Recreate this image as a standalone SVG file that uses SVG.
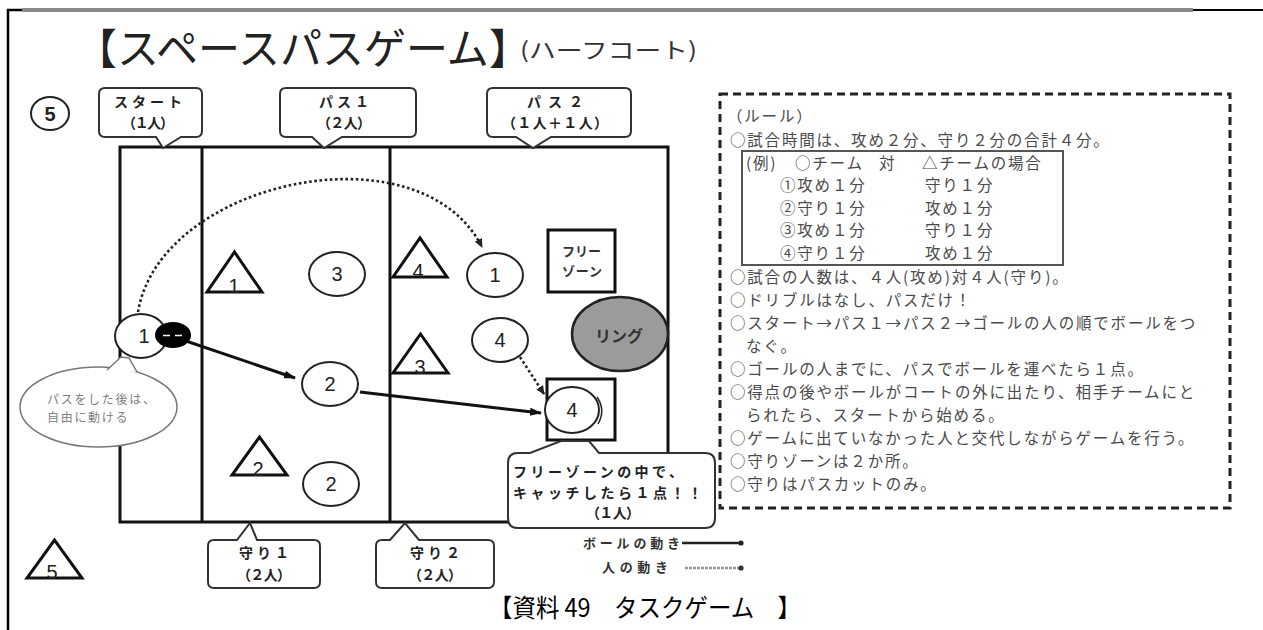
<svg xmlns="http://www.w3.org/2000/svg" width="1263" height="630" viewBox="0 0 1263 630">
<defs>
<style>
text{font-family:"Noto Sans CJK JP","Noto Sans CJK SC",sans-serif;}
.ln{fill:none;stroke:#111;stroke-width:3}
.call{fill:#fff;stroke:#333;stroke-width:2}
.ct{font-size:14px;font-weight:bold;fill:#222;text-anchor:middle}
.num{font-family:"Liberation Sans",Arial,sans-serif;font-size:20px;fill:#222;text-anchor:middle}
.pl{fill:#fff;stroke:#222;stroke-width:2}
.tri{fill:#fff;stroke:#111;stroke-width:3}
.rule{font-size:15.5px;letter-spacing:1.8px;fill:#4a4a4a}
.fz{font-size:14px;font-weight:bold;fill:#222}
.arr{fill:none;stroke:#111;stroke-width:3}
.dot{fill:none;stroke:#222;stroke-width:2.6;stroke-dasharray:2.6 2.6}
</style>
<marker id="ah" viewBox="0 0 12 10" refX="11" refY="5" markerWidth="12" markerHeight="10" markerUnits="userSpaceOnUse" orient="auto"><path d="M0,1 L12,5 L0,9 z" fill="#111"/></marker>
<marker id="ahd" viewBox="0 0 9 8" refX="8" refY="4" markerWidth="9" markerHeight="8" markerUnits="userSpaceOnUse" orient="auto"><path d="M0,0 L9,4 L0,8 z" fill="#222"/></marker>
</defs>
<rect width="1263" height="630" fill="#fff"/>

<g id="frame">
<path d="M8,630 V10 H22" fill="none" stroke="#000" stroke-width="2.5"/>
<line x1="22" y1="10" x2="1193" y2="10" stroke="#8a8a8a" stroke-width="4"/>
<line x1="1193" y1="10" x2="1263" y2="10" stroke="#000" stroke-width="2"/>
</g>

<g id="title">
<text x="75" y="64" font-size="42" fill="#222">【スペースパスゲーム】</text>
<text x="520" y="58" font-size="22" fill="#333" textLength="177" lengthAdjust="spacingAndGlyphs">(ハーフコート)</text>
</g>

<g id="court">
<rect x="120" y="147" width="548" height="375" class="ln"/>
<line x1="202" y1="147" x2="202" y2="522" class="ln"/>
<line x1="390" y1="147" x2="390" y2="522" class="ln"/>
</g>

<g id="callout-start">
<path class="call" d="M105,88 H196 Q202,88 202,94 V131 Q202,137 196,137 H181 L163,148 L156,137 H105 Q99,137 99,131 V94 Q99,88 105,88 Z"/>
<text class="ct" x="148" y="107" textLength="68">スタート</text>
<text class="ct" x="148" y="128" textLength="52">（１人）</text>
</g>
<g id="callout-pass1">
<path class="call" d="M286,88 H410 Q416,88 416,94 V131 Q416,137 410,137 H342 L324,148 L312,137 H286 Q280,137 280,131 V94 Q280,88 286,88 Z"/>
<text class="ct" x="344" y="107" textLength="50">パス１</text>
<text class="ct" x="344" y="128" textLength="54">（２人）</text>
</g>
<g id="callout-pass2">
<path class="call" d="M493,88 H625 Q631,88 631,94 V131 Q631,137 625,137 H551 L533,148 L516,137 H493 Q487,137 487,131 V94 Q487,88 493,88 Z"/>
<text class="ct" x="555" y="107" textLength="56">パス２</text>
<text class="ct" x="555" y="128" textLength="106">（１人＋１人）</text>
</g>

<g id="p5">
<ellipse cx="50" cy="113.5" rx="19" ry="16.5" class="pl"/>
<text class="num" x="50" y="120.5" font-weight="bold" font-size="18">5</text>
</g>

<g id="bubble">
<ellipse cx="98.5" cy="407" rx="78.5" ry="40" fill="#fff" stroke="#777" stroke-width="1.5"/>
<path d="M107,370 L121,357 L129,358 L137,372" fill="#fff" stroke="#777" stroke-width="1.5"/>
<text x="47" y="404" font-size="12" letter-spacing="1.7" fill="#808080">パスをした後は、</text>
<text x="47" y="422" font-size="12" letter-spacing="1.7" fill="#808080">自由に動ける</text>
</g>

<g id="d1"><polygon class="tri" points="207,292 262,292 234.5,252"/><text class="num" x="234" y="293" font-size="18">1</text></g>
<g id="d2"><polygon class="tri" points="232,475 287,475 259.5,437"/><text class="num" x="258" y="476" font-size="18">2</text></g>
<g id="d3"><polygon class="tri" points="393,373 448,373 420.5,334"/><text class="num" x="420" y="374" font-size="18">3</text></g>
<g id="d4"><polygon class="tri" points="393,277 447,277 420,238"/><text class="num" x="418" y="278" font-size="18">4</text></g>
<g id="d5"><polygon class="tri" points="27,578 82,578 54.5,540"/><text class="num" x="52" y="579" font-size="18">5</text></g>

<g id="freezone-top">
<rect x="548" y="230" width="67" height="62" fill="#fff" stroke="#111" stroke-width="3"/>
<text x="562" y="256" font-size="13" font-weight="bold" fill="#333" textLength="39">フリー</text>
<text x="562" y="276" font-size="13" font-weight="bold" fill="#333" textLength="40">ゾーン</text>
</g>
<g id="ring">
<ellipse cx="620" cy="334" rx="48" ry="37" fill="#9b9b9b" stroke="#222" stroke-width="2.5"/>
<text x="619" y="342" font-size="16" font-weight="bold" fill="#333" text-anchor="middle">リング</text>
</g>
<g id="freezone-bottom">
<rect x="547" y="379" width="68" height="61" fill="#fff" stroke="#111" stroke-width="3"/>
</g>

<g id="connectors">
<path class="dot" d="M138,312 C160,180 420,125 482,247" marker-end="url(#ahd)"/>
<path class="arr" d="M186,341 L295,378" marker-end="url(#ah)"/>
<path class="arr" d="M360,392 L541,413" marker-end="url(#ah)"/>
<path class="dot" d="M520,357 L544,394" marker-end="url(#ahd)"/>
</g>

<g id="a1-left"><ellipse cx="141" cy="336" rx="26" ry="22" class="pl"/><text class="num" x="144" y="343">1</text></g>
<g id="ball">
<ellipse cx="173" cy="335" rx="18" ry="13" fill="#000"/>
<line x1="163" y1="335.5" x2="170" y2="335.5" stroke="#fff" stroke-width="1.5"/>
<line x1="175" y1="335.5" x2="182" y2="335.5" stroke="#fff" stroke-width="1.5"/>
</g>
<g id="a3"><ellipse cx="337" cy="274" rx="28" ry="22" class="pl"/><text class="num" x="337" y="281">3</text></g>
<g id="a1-right"><ellipse cx="495" cy="275" rx="28" ry="22" class="pl"/><text class="num" x="495" y="282">1</text></g>
<g id="a4-top"><ellipse cx="500" cy="340" rx="28" ry="22" class="pl"/><text class="num" x="500" y="347">4</text></g>
<g id="a2-mid"><ellipse cx="330" cy="384" rx="28" ry="22" class="pl"/><text class="num" x="330" y="391">2</text></g>
<g id="a2-low"><ellipse cx="331" cy="484" rx="28" ry="22" class="pl"/><text class="num" x="331" y="491">2</text></g>
<g id="a4-free">
<ellipse cx="572" cy="410" rx="27" ry="23" class="pl"/>
<path d="M597,397 Q606,410 598,424" fill="none" stroke="#222" stroke-width="1.5"/>
<text class="num" x="572" y="417">4</text>
</g>

<g id="callout-free">
<path class="call" d="M518,453 H530 L561,441 L589,441 L599,453 H705 Q715,453 715,463 V518 Q715,528 705,528 H518 Q508,528 508,518 V463 Q508,453 518,453 Z"/>
<text class="fz" x="513" y="477" textLength="170">フリーゾーンの中で、</text>
<text class="fz" x="513" y="497.5" textLength="189">キャッチしたら１点！！</text>
<text class="fz" x="613" y="518" text-anchor="middle" textLength="54">（１人）</text>
</g>

<g id="callout-def1">
<path class="call" d="M214,540 H237 L250,523 L257,540 H314 Q320,540 320,546 V582 Q320,588 314,588 H214 Q208,588 208,582 V546 Q208,540 214,540 Z"/>
<text class="ct" x="264" y="558" textLength="50">守り１</text>
<text class="ct" x="264" y="580" textLength="54">（２人）</text>
</g>
<g id="callout-def2">
<path class="call" d="M382,540 H390 L405,523 L419,540 H488 Q494,540 494,546 V582 Q494,588 488,588 H382 Q376,588 376,582 V546 Q376,540 382,540 Z"/>
<text class="ct" x="435" y="558" textLength="50">守り２</text>
<text class="ct" x="435" y="580" textLength="54">（２人）</text>
</g>

<g id="legend">
<text x="583" y="548" font-size="13" font-weight="bold" fill="#333" textLength="97">ボールの動き</text>
<line x1="682" y1="543" x2="740" y2="543" stroke="#222" stroke-width="2.5"/>
<circle cx="741" cy="543" r="2.6" fill="#222"/>
<text x="602" y="572" font-size="13" font-weight="bold" fill="#333" textLength="66">人の動き</text>
<line x1="685" y1="568" x2="740" y2="568" stroke="#999" stroke-width="2.5" stroke-dasharray="3 1"/>
<circle cx="741" cy="568" r="2.6" fill="#333"/>
</g>

<g id="rules">
<rect x="720" y="94" width="510" height="414" fill="none" stroke="#222" stroke-width="3" stroke-dasharray="8 5"/>
<rect x="742" y="151" width="321" height="114" fill="none" stroke="#555" stroke-width="2"/>
<text class="rule" x="727" y="121.9">（ルール）</text>
<text class="rule" x="730" y="145.9">○試合時間は、攻め２分、守り２分の合計４分。</text>
<text class="rule" x="746" y="168.9">(例)</text>
<text class="rule" x="795" y="168.9">○チーム</text>
<text class="rule" x="879" y="168.9">対</text>
<text class="rule" x="922" y="168.9">△チームの場合</text>
<text class="rule" x="780" y="191.4">①攻め１分</text><text class="rule" x="925" y="191.4">守り１分</text>
<text class="rule" x="780" y="213.9">②守り１分</text><text class="rule" x="925" y="213.9">攻め１分</text>
<text class="rule" x="780" y="236.4">③攻め１分</text><text class="rule" x="925" y="236.4">守り１分</text>
<text class="rule" x="780" y="258.9">④守り１分</text><text class="rule" x="925" y="258.9">攻め１分</text>
<text class="rule" x="730" y="282.9">○試合の人数は、４人(攻め)対４人(守り)。</text>
<text class="rule" x="730" y="305.9">○ドリブルはなし、パスだけ！</text>
<text class="rule" x="730" y="328.9">○スタート→パス１→パス２→ゴールの人の順でボールをつ</text>
<text class="rule" x="746" y="351.9">なぐ。</text>
<text class="rule" x="730" y="374.9">○ゴールの人までに、パスでボールを運べたら１点。</text>
<text class="rule" x="730" y="397.9">○得点の後やボールがコートの外に出たり、相手チームにと</text>
<text class="rule" x="746" y="420.9">られたら、スタートから始める。</text>
<text class="rule" x="730" y="443.9">○ゲームに出ていなかった人と交代しながらゲームを行う。</text>
<text class="rule" x="730" y="466.9">○守りゾーンは２か所。</text>
<text class="rule" x="730" y="489.9">○守りはパスカットのみ。</text>
</g>

<g id="caption">
<text x="489" y="617" font-size="25" fill="#000" textLength="312" lengthAdjust="spacingAndGlyphs">【資料 49　タスクゲーム　】</text>
</g>
</svg>
